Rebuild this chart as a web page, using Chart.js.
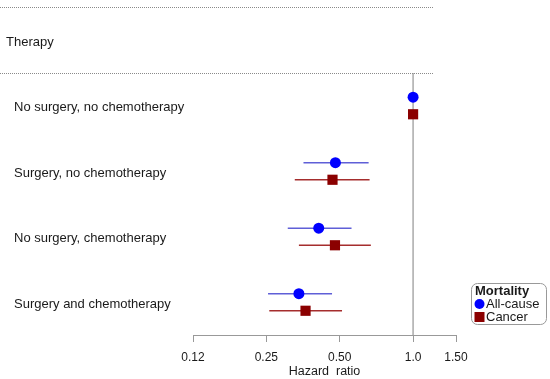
<!DOCTYPE html>
<html>
<head>
<meta charset="utf-8">
<script src="https://cdn.jsdelivr.net/npm/chart.js@4/dist/chart.umd.min.js"></script>
<style>
  html, body { margin: 0; padding: 0; background: #fff; }
  #wrap { width: 550px; height: 379px; position: relative; }
</style>
</head>
<body>
<div id="wrap"><canvas id="forest"></canvas></div>
<script>
const therapies = ['No surgery, no chemotherapy', 'Surgery, no chemotherapy', 'No surgery, chemotherapy', 'Surgery and chemotherapy'];
const allCauseHR = [1.0, 0.48, 0.41, 0.34];
const allCauseLo = [1.0, 0.355, 0.306, 0.254];
const allCauseHi = [1.0, 0.657, 0.559, 0.465];
const cancerHR = [1.0, 0.467, 0.478, 0.362];
const cancerLo = [1.0, 0.327, 0.340, 0.257];
const cancerHi = [1.0, 0.663, 0.671, 0.511];
const tickVals = [0.125, 0.25, 0.5, 1.0, 1.5];
const tickLabels = ['0.12', '0.25', '0.50', '1.0', '1.50'];

const FONT = "'Liberation Sans', Arial, sans-serif";
const ROW_OFF = 0.13; // vertical offset of each series inside a row
const blueLine = 'rgb(95,95,215)';
const redLine = 'rgb(165,45,45)';

// error bars, reference line, header lines and legend
const forestExtras = {
    id: 'forestExtras',
    beforeDatasetsDraw(chart) {
        const ctx = chart.ctx;
        const x = chart.scales.x;
        const y = chart.scales.y;
        const area = chart.chartArea;
        ctx.save();
        // reference line at HR = 1
        ctx.strokeStyle = '#aaa';
        ctx.lineWidth = 1.5;
        ctx.beginPath();
        ctx.moveTo(x.getPixelForValue(1), area.top);
        ctx.lineTo(x.getPixelForValue(1), area.bottom);
        ctx.stroke();
        // confidence intervals
        ctx.lineWidth = 1.3;
        therapies.forEach((t, i) => {
            ctx.strokeStyle = blueLine;
            ctx.beginPath();
            ctx.moveTo(x.getPixelForValue(allCauseLo[i]), y.getPixelForValue(i - ROW_OFF));
            ctx.lineTo(x.getPixelForValue(allCauseHi[i]), y.getPixelForValue(i - ROW_OFF));
            ctx.stroke();
            ctx.strokeStyle = redLine;
            ctx.beginPath();
            ctx.moveTo(x.getPixelForValue(cancerLo[i]), y.getPixelForValue(i + ROW_OFF));
            ctx.lineTo(x.getPixelForValue(cancerHi[i]), y.getPixelForValue(i + ROW_OFF));
            ctx.stroke();
        });
        ctx.restore();
    },
    afterDraw(chart) {
        const ctx = chart.ctx;
        ctx.save();
        // dotted header lines
        ctx.strokeStyle = '#8a8a8a';
        ctx.lineWidth = 1;
        ctx.setLineDash([1, 1]);
        [7.5, 73.5].forEach(yy => {
            ctx.beginPath();
            ctx.moveTo(0, yy);
            ctx.lineTo(433, yy);
            ctx.stroke();
        });
        ctx.setLineDash([]);
        ctx.fillStyle = '#1a1a1a';
        ctx.font = '13px ' + FONT;
        ctx.textBaseline = 'middle';
        ctx.textAlign = 'left';
        ctx.fillText('Therapy', 6, 42);

        // legend
        ctx.strokeStyle = '#999';
        ctx.lineWidth = 1;
        ctx.beginPath();
        ctx.roundRect(471.5, 283.5, 75, 41, 6);
        ctx.stroke();
        ctx.font = 'bold 13px ' + FONT;
        ctx.fillText('Mortality', 475, 291);
        ctx.font = '13px ' + FONT;
        ctx.fillText('All-cause', 486, 304);
        ctx.fillText('Cancer', 486, 317);
        ctx.fillStyle = '#0000ff';
        ctx.beginPath();
        ctx.arc(479.5, 304, 5, 0, Math.PI * 2);
        ctx.fill();
        ctx.fillStyle = '#8b0000';
        ctx.fillRect(474.5, 312, 10, 10);
        ctx.restore();
    }
};

new Chart(document.getElementById('forest'), {
    type: 'scatter',
    data: {
        datasets: [{
            label: 'All-cause',
            data: allCauseHR.map((v, i) => ({ x: v, y: i - ROW_OFF })),
            pointStyle: 'circle',
            pointRadius: 5.5,
            pointBorderWidth: 0,
            backgroundColor: '#0000ff',
            borderColor: '#0000ff'
        }, {
            label: 'Cancer',
            data: cancerHR.map((v, i) => ({ x: v, y: i + ROW_OFF })),
            pointStyle: 'rect',
            pointRadius: 7.2,
            pointBorderWidth: 0,
            backgroundColor: '#8b0000',
            borderColor: '#8b0000'
        }]
    },
    options: {
        responsive: true,
        maintainAspectRatio: false,
        animation: false,
        layout: {
            padding: { top: 73, left: 14, right: 94, bottom: 0 }
        },
        scales: {
            x: {
                type: 'logarithmic',
                min: 0.125,
                max: 1.5,
                afterBuildTicks: scale => {
                    scale.ticks = tickVals.map(v => ({ value: v }));
                },
                afterFit: scale => {
                    scale.height = 44;
                },
                grid: {
                    drawOnChartArea: false,
                    tickLength: 7,
                    color: '#999'
                },
                border: { display: true, color: '#999' },
                ticks: {
                    padding: 8,
                    maxRotation: 0,
                    autoSkip: false,
                    color: '#1a1a1a',
                    font: { family: FONT, size: 12 },
                    callback: (val, idx) => tickLabels[idx]
                },
                title: {
                    display: true,
                    text: 'Hazard  ratio',
                    color: '#1a1a1a',
                    font: { family: FONT, size: 12.5 },
                    padding: { top: 0, bottom: 0 }
                }
            },
            y: {
                type: 'linear',
                min: -0.5,
                max: 3.5,
                reverse: true,
                afterBuildTicks: scale => {
                    scale.ticks = therapies.map((t, i) => ({ value: i }));
                },
                afterFit: scale => {
                    scale.width = 179;
                },
                grid: { display: false },
                border: { display: false },
                ticks: {
                    crossAlign: 'far',
                    labelOffset: 2,
                    color: '#1a1a1a',
                    font: { family: FONT, size: 13 },
                    callback: (val, idx) => therapies[idx]
                }
            }
        },
        plugins: {
            legend: { display: false },
            tooltip: { enabled: false }
        }
    },
    plugins: [forestExtras]
});
</script>
</body>
</html>
